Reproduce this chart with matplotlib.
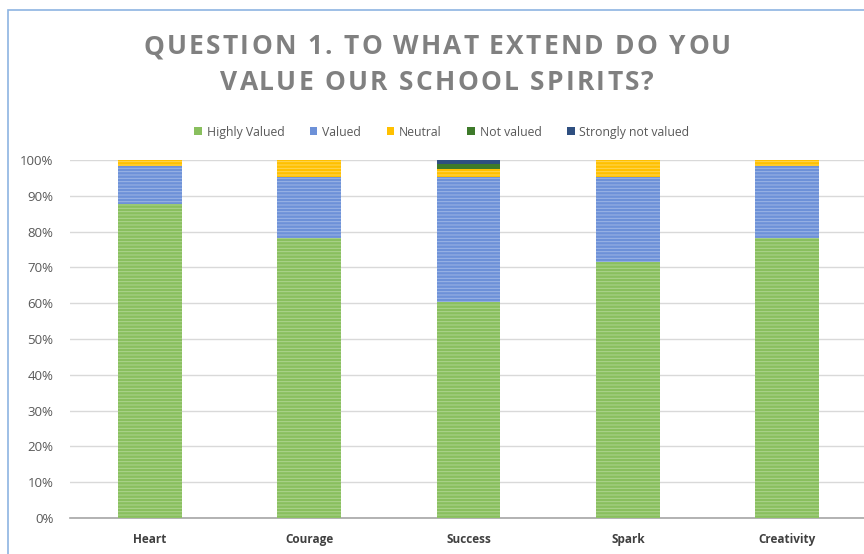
import matplotlib
matplotlib.use("Agg")
import matplotlib.pyplot as plt
from matplotlib.patches import Rectangle
from matplotlib.font_manager import FontProperties
import numpy as np

categories = ["Heart", "Courage", "Success", "Spark", "Creativity"]
series_names = ["Highly Valued", "Valued", "Neutral", "Not valued", "Strongly not valued"]
highly_valued = [87.7, 78.2, 60.3, 71.5, 78.2]
valued = [10.6, 17.0, 34.9, 23.7, 20.1]
neutral = [1.7, 4.8, 2.4, 4.8, 1.7]
not_valued = [0.0, 0.0, 1.2, 0.0, 0.0]
strongly_not_valued = [0.0, 0.0, 1.2, 0.0, 0.0]
yticks = [0, 10, 20, 30, 40, 50, 60, 70, 80, 90, 100]
title_lines = ["QUESTION 1. TO WHAT EXTEND DO YOU", "VALUE OUR SCHOOL SPIRITS?"]

colors = ["#89BF5E", "#6D91D8", "#FFC000", "#3E7A2A", "#2F4F80"]
hatch_colors = ["#AED48F", "#9DB6E6", "#FFD75A", "#3E7A2A", "#2F4F80"]

plt.rcParams['font.family'] = ['Open Sans', 'DejaVu Sans']
plt.rcParams['hatch.linewidth'] = 0.7

W, H = 864, 554
fig = plt.figure(figsize=(W / 100, H / 100), dpi=100)
# chart border
fig.patches.append(Rectangle((8/W, -0.1), 1.2, (H-10)/H + 0.1, transform=fig.transFigure,
                             fill=False, edgecolor="#8DB4E2", linewidth=1.2))

ax = fig.add_axes([70/W, 36/H, 797/W, 358/H])
x = np.arange(len(categories))
data = [highly_valued, valued, neutral, not_valued, strongly_not_valued]
bottom = np.zeros(len(categories))
for i, (vals, name) in enumerate(zip(data, series_names)):
    vals = np.array(vals)
    ax.bar(x, vals, 0.4, bottom=bottom, color=colors[i], label=name, linewidth=0, zorder=3)
    if i < 3:
        ax.bar(x, vals, 0.4, bottom=bottom, color="none", edgecolor=hatch_colors[i],
               hatch="-----", linewidth=0, zorder=4)
    bottom += vals

ax.set_xlim(-0.5, len(categories) - 0.5)
ax.set_ylim(0, 100)
ax.set_yticks(yticks)
ax.set_yticklabels([f"{t}%" for t in yticks], fontsize=9.5, color="#595959")
ax.set_xticks(x)
ax.set_xticklabels(categories, fontsize=8.5, color="#404040", fontweight="bold")
ax.tick_params(axis="y", length=0, pad=12)
ax.tick_params(axis="x", length=0, pad=11)
ax.grid(axis="y", color="#D9D9D9", linewidth=1, zorder=0)
for s in ["top", "right", "left"]:
    ax.spines[s].set_visible(False)
ax.spines["bottom"].set_color("#A6A6A6")
ax.spines["bottom"].set_linewidth(1.2)

# title with letter spacing
renderer = fig.canvas.get_renderer()
tprop = FontProperties(family=["Open Sans", "DejaVu Sans"], weight="bold", size=19)

def text_w(s):
    w1, _, _ = renderer.get_text_width_height_descent(s + "I", tprop, ismath=False)
    w2, _, _ = renderer.get_text_width_height_descent("I", tprop, ismath=False)
    return w1 - w2

track = 2.3
cx = 437
for line, yc in zip(title_lines, [47, 83]):
    total = text_w(line) + track * (len(line) - 1)
    x0 = cx - total / 2
    for i, ch in enumerate(line):
        if ch == " ":
            continue
        xp = x0 + text_w(line[:i]) + track * i
        fig.text(xp / W, 1 - yc / H, ch, ha="left", va="center", fontproperties=tprop,
                 color="#808080")

leg = fig.legend(loc="center", bbox_to_anchor=(442/W, 1 - 132/H), ncol=5, frameon=False,
                 fontsize=8.8, handlelength=0.6, handleheight=0.6, columnspacing=2.1,
                 handletextpad=0.4)
for t in leg.get_texts():
    t.set_color("#595959")

fig.savefig("out.png", dpi=100)
